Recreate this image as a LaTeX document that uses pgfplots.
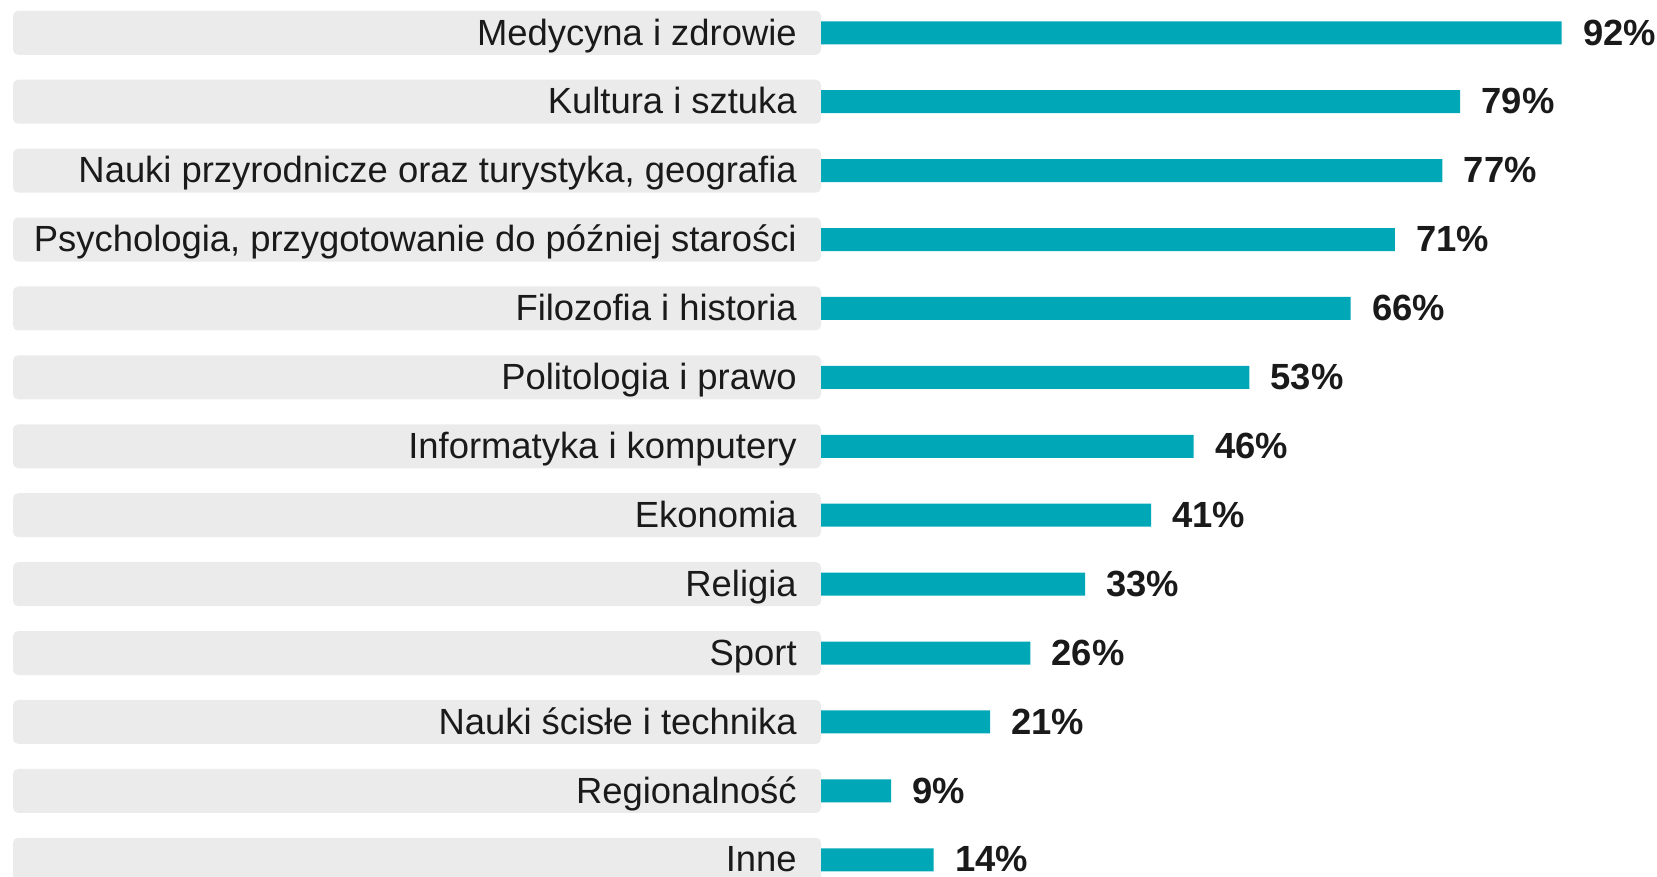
\documentclass[border=0pt]{standalone}
\usepackage{pgfplots}
\pgfplotsset{compat=1.18}
\usepackage{fontspec}
\setmainfont{Liberation Sans}
\definecolor{barteal}{RGB}{0,168,183}
\definecolor{boxgray}{RGB}{235,235,235}
\definecolor{txt}{RGB}{26,26,26}
\begin{document}
\begin{tikzpicture}
\begin{axis}[
  scale only axis,
  width=828.5bp, height=438.5bp,
  xmin=-101.99, xmax=103.85,
  ymin=-0.476, ymax=12.25,
  y dir=reverse,
  axis on top,
  axis line style={draw=none},
  tick style={draw=none},
  xtick=\empty,
  ytick={0,1,2,3,4,5,6,7,8,9,10,11,12},
  yticklabels={Medycyna i zdrowie,Kultura i sztuka,{Nauki przyrodnicze oraz turystyka, geografia},{Psychologia, przygotowanie do później starości},Filozofia i historia,Politologia i prawo,Informatyka i komputery,Ekonomia,Religia,Sport,Nauki ścisłe i technika,Regionalność,Inne},
  yticklabel style={anchor=base east, xshift=402.8bp, yshift=-6.1bp, inner sep=0pt, font=\fontsize{18.2bp}{21bp}\selectfont, text=txt},
  xbar,
]
\addplot[xbar, fill=boxgray, draw=none, bar width=22bp, bar shift=0pt, rounded corners=2.5bp]
  coordinates {(-100.37,0) (-100.37,1) (-100.37,2) (-100.37,3) (-100.37,4) (-100.37,5) (-100.37,6) (-100.37,7) (-100.37,8) (-100.37,9) (-100.37,10) (-100.37,11) (-100.37,12)};
\addplot[xbar, fill=barteal, draw=none, bar width=11.5bp, bar shift=0pt,
  nodes near coords={\pgfplotspointmeta\%},
  point meta=explicit symbolic,
  nodes near coords style={anchor=base west, inner sep=0pt, xshift=10.5bp, yshift=-6.1bp, font=\fontsize{18.2bp}{21bp}\selectfont\bfseries, text=txt}]
  coordinates {(92,0)[92] (79.4,1)[79] (77.2,2)[77] (71.3,3)[71] (65.8,4)[66] (53.2,5)[53] (46.3,6)[46] (41,7)[41] (32.8,8)[33] (26,9)[26] (21,10)[21] (8.7,11)[9] (14,12)[14]};
\end{axis}
\pgfresetboundingbox
\useasboundingbox (current axis.south west) rectangle (current axis.north east);
\end{tikzpicture}
\end{document}
